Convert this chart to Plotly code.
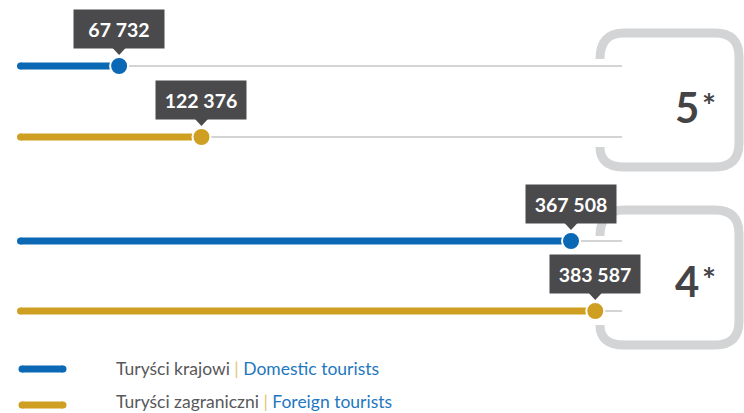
import plotly.graph_objects as go

# ---- data ----
categories = ["5*", "5*", "4*", "4*"]
series_names = ["Turyści krajowi", "Turyści zagraniczni", "Turyści krajowi", "Turyści zagraniczni"]
values = [67732, 122376, 367508, 383587]
value_labels = ["67 732", "122 376", "367 508", "383 587"]
star_groups = ["5", "4"]
legend_pl = ["Turyści krajowi", "Turyści zagraniczni"]
legend_en = ["Domestic tourists", "Foreign tourists"]

# ---- style / layout ----
W, H = 744, 413
BLUE = "#0a68b4"
GOLD = "#cf9f22"
BOX = "#4a4a4c"
TRACK = "#a9a9a9"
BRACKET = "#d3d4d6"
TXT = "#444446"
FONT = "Lato, Roboto, sans-serif"
colors = [BLUE, GOLD, BLUE, GOLD]
ROW_Y = [66, 137, 241, 311]
X0_PX = 17
AXIS_MAX = 400000
AXIS_MAX_PX = 620
k = (AXIS_MAX_PX - X0_PX) / AXIS_MAX
XMIN = -X0_PX / k
XMAX = (W - X0_PX) / k
TRACK_END = (622 - X0_PX) / k
BAR_START = 3.5 / k

fig = go.Figure()
shapes = []
annotations = []

def bracket(top, bottom, left=600, right=739, r=24):
    return (f"M {left},{top + r + 2} Q {left},{top} {left + r},{top} L {right - r},{top} "
            f"Q {right},{top} {right},{top + r} L {right},{bottom - r} "
            f"Q {right},{bottom} {right - r},{bottom} L {left + r},{bottom} "
            f"Q {left},{bottom} {left},{bottom - r + 4}")

def pathpx(d):
    out = []
    for tok in d.split(" "):
        if "," in tok:
            a, b = tok.split(",")
            out.append(f"{float(a) / W:.5f},{b}")
        else:
            out.append(tok)
    return " ".join(out)

for top, bottom in [(33, 167), (210, 345)]:
    shapes.append(dict(type="path", xref="paper", yref="y", path=pathpx(bracket(top, bottom)),
                       line=dict(color=BRACKET, width=9), layer="below"))

for i, v in enumerate(values):
    y = ROW_Y[i]
    c = colors[i]
    fig.add_trace(go.Scatter(x=[BAR_START, TRACK_END], y=[y, y], mode="lines",
                             line=dict(color=TRACK, width=1), hoverinfo="skip", showlegend=False))
    fig.add_trace(go.Scatter(x=[BAR_START, v], y=[y, y], mode="lines",
                             line=dict(color=c, width=7), hoverinfo="skip", showlegend=False))
    fig.add_trace(go.Scatter(x=[BAR_START], y=[y], mode="markers",
                             marker=dict(color=c, size=7, line=dict(width=0)),
                             hoverinfo="skip", showlegend=False))
    fig.add_trace(go.Scatter(x=[v], y=[y], mode="markers",
                             marker=dict(color=c, size=18, line=dict(color="white", width=2)),
                             name=series_names[i], showlegend=False))
    annotations.append(dict(x=v, y=y - 37, xref="x", yref="y", text=f"<b>{value_labels[i]}</b>",
                            showarrow=False, font=dict(family=FONT, size=19.5, color="white"),
                            bgcolor=BOX, width=86, height=34, borderpad=2, xanchor="center", yanchor="middle"))
    hw = 7 / k
    shapes.append(dict(type="path", xref="x", yref="y",
                       path=f"M {v - hw},{y - 18.5} L {v + hw},{y - 18.5} L {v},{y - 11} Z",
                       fillcolor=BOX, line=dict(width=0)))

# star labels
for j, s in enumerate(star_groups):
    yc = (ROW_Y[2 * j] + ROW_Y[2 * j + 1]) / 2 + 5
    annotations.append(dict(x=701 / W, y=yc, xref="paper", yref="y", text=f"<b>{s}</b>",
                            showarrow=False, font=dict(family=FONT, size=42, color=TXT),
                            xanchor="right", yanchor="middle"))
    annotations.append(dict(x=700 / W, y=yc - 24, xref="paper", yref="y", text="<b>*</b>",
                            showarrow=False, font=dict(family=FONT, size=33, color=TXT),
                            xanchor="left", yanchor="top"))

# custom legend
LEG_Y = [369, 405]
LEG_TEXT_Y = [368, 401]
for j in range(2):
    c = [BLUE, GOLD][j]
    shapes.append(dict(type="line", xref="paper", yref="y", x0=22 / W, x1=63 / W, y0=LEG_Y[j], y1=LEG_Y[j],
                       line=dict(color=c, width=7)))
    for xp in (22, 63):
        shapes.append(dict(type="circle", xref="paper", yref="y", x0=(xp - 3.5) / W, x1=(xp + 3.5) / W,
                           y0=LEG_Y[j] - 3.5, y1=LEG_Y[j] + 3.5, fillcolor=c, line=dict(width=0)))
    annotations.append(dict(x=115 / W, y=LEG_TEXT_Y[j], xref="paper", yref="y",
                            text=(f"<span style='color:#58585a'>{legend_pl[j]}</span> "
                                  f"<span style='color:#e2c478'>|</span> "
                                  f"<span style='color:#1f77c0'>{legend_en[j]}</span>"),
                            showarrow=False, font=dict(family=FONT, size=17.5),
                            xanchor="left", yanchor="middle", borderpad=0))

fig.update_layout(
    width=W, height=H, margin=dict(l=0, r=0, t=0, b=0),
    paper_bgcolor="white", plot_bgcolor="white",
    xaxis=dict(range=[XMIN, XMAX], visible=False, fixedrange=True),
    yaxis=dict(range=[H, 0], visible=False, fixedrange=True),
    shapes=shapes, annotations=annotations, showlegend=False,
)

fig.write_html("out.html", config={"displayModeBar": False},
               post_script="document.body.style.margin='0';document.body.style.overflow='hidden';")
